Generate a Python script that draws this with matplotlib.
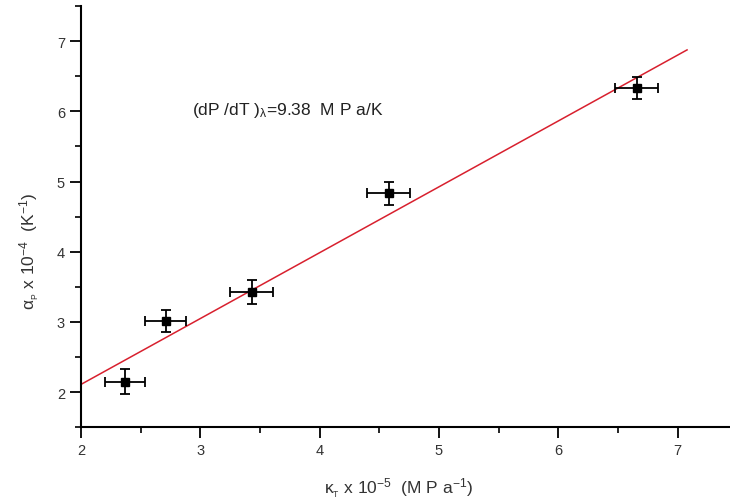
import numpy as np
import matplotlib.pyplot as plt
from matplotlib.ticker import MultipleLocator

plt.rcParams['font.family'] = ['Liberation Sans', 'DejaVu Sans']
plt.rcParams['mathtext.fontset'] = 'custom'
plt.rcParams['mathtext.rm'] = 'Liberation Sans'
plt.rcParams['mathtext.it'] = 'Liberation Sans'

# datos
kappa_T = [2.37, 2.71, 3.43, 4.58, 6.66]      # x 10^-5 MPa^-1
alpha_P = [2.15, 3.01, 3.43, 4.83, 6.33]      # x 10^-4 K^-1
err_x = [0.17, 0.17, 0.18, 0.18, 0.18]
err_y = [0.18, 0.16, 0.17, 0.16, 0.16]

# ajuste lineal
pendiente = 0.938
ordenada = 0.234
x_ajuste = np.array([2.0, 7.08])

fig = plt.figure(figsize=(7.3, 5.02), dpi=100)
ax = fig.add_axes([0.111, 0.147, 0.889, 0.839])

ax.plot(x_ajuste, pendiente * x_ajuste + ordenada, color='#d8202e', lw=1.1, zorder=2)
ax.errorbar(kappa_T, alpha_P, xerr=err_x, yerr=err_y, fmt='s', color='black',
            markersize=6, ecolor='black', elinewidth=1.3, capsize=3.5, capthick=1.3, zorder=3)

ax.text(2.93, 6.03, r'(dP /dT )$_{λ}$=9.38  M P a/K', fontsize=12.5, color='#222222',
        va='center', ha='left')

ax.set_xlim(2, 7.44)
ax.set_ylim(1.5, 7.5)
ax.xaxis.set_major_locator(MultipleLocator(1))
ax.xaxis.set_minor_locator(MultipleLocator(0.5))
ax.yaxis.set_major_locator(MultipleLocator(1))
ax.yaxis.set_minor_locator(MultipleLocator(0.5))
ax.set_yticks([2, 3, 4, 5, 6, 7])
ax.tick_params(which='major', direction='out', length=8, width=1.3, labelsize=10.5,
               labelcolor='#333333')
ax.tick_params(which='minor', direction='out', length=4, width=1.2)

for s in ['top', 'right']:
    ax.spines[s].set_visible(False)
for s in ['left', 'bottom']:
    ax.spines[s].set_linewidth(1.5)

ax.set_xlabel(r'κ$_{_T}$ x 10$^{-5}$  (M P a$^{-1}$)', fontsize=12.5, color='#333333')
ax.set_ylabel(r'α$_{_P}$ x 10$^{-4}$  (K$^{-1}$)', fontsize=12.5, color='#333333')
ax.xaxis.set_label_coords(0.49, -0.115)
ax.yaxis.set_label_coords(-0.06, 0.42)

fig.savefig('out.png', dpi=100)
